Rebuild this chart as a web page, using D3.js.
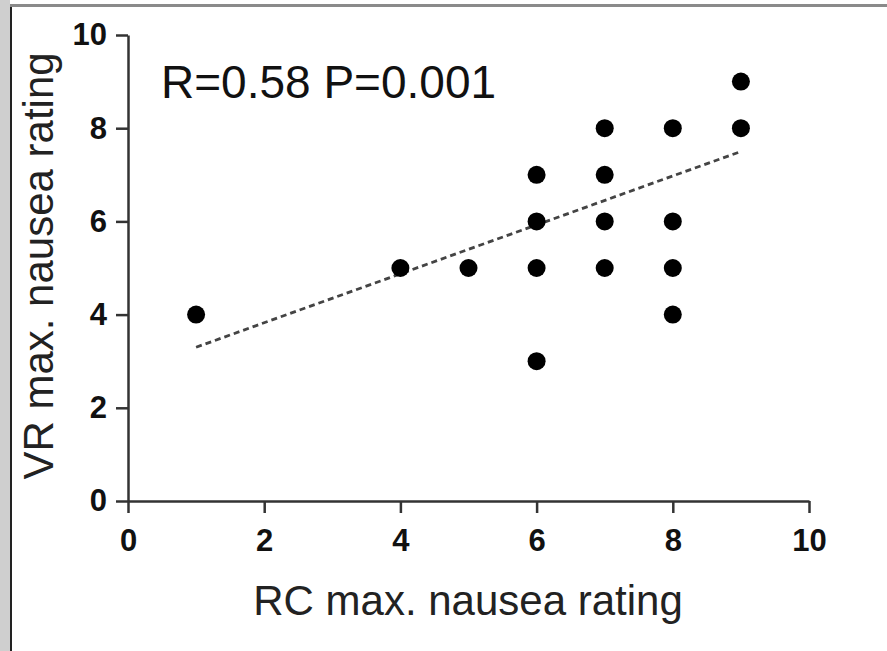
<!DOCTYPE html>
<html lang="en">
  <head>
    <meta charset="utf-8" />
    <title>VR vs RC max. nausea rating</title>
    <script src="https://d3js.org/d3.v7.min.js"></script>
    <style>
      body { margin: 0; background: #fff; }
      svg { display: block; font-family: "Liberation Sans", Arial, sans-serif; }
    </style>
  </head>
  <body>
    <svg id="chart" width="887" height="651"></svg>

    <script>
      // data
      const rcRating = [1, 4, 5, 6, 6, 6, 6, 7, 7, 7, 7, 8, 8, 8, 8, 9, 9];
      const vrRating = [4, 5, 5, 3, 5, 6, 7, 5, 6, 7, 8, 4, 5, 6, 8, 8, 9];
      const fitLine = [[1, 3.3], [9, 7.5]];
      const xTicks = [0, 2, 4, 6, 8, 10];
      const yTicks = [0, 2, 4, 6, 8, 10];
      const statText = "R=0.58 P=0.001";

      const svg = d3.select("#chart");

      // frame of the screenshot
      svg.append("rect").attr("x", 0).attr("y", 0).attr("width", 10).attr("height", 651).attr("fill", "#cfcfcf");
      svg.append("rect").attr("x", 10).attr("y", 5).attr("width", 2).attr("height", 646).attr("fill", "#222");
      svg.append("rect").attr("x", 10).attr("y", 4).attr("width", 877).attr("height", 3).attr("fill", "#8a8a8a");

      const x = d3.scaleLinear().domain([0, 10]).range([128, 809]);
      const y = d3.scaleLinear().domain([0, 10]).range([501, 35]);

      const xAxis = svg.append("g")
        .attr("transform", "translate(0,501)")
        .call(d3.axisBottom(x).tickValues(xTicks).tickSize(12).tickPadding(16).tickSizeOuter(0));
      const yAxis = svg.append("g")
        .attr("transform", "translate(128,0)")
        .call(d3.axisLeft(y).tickValues(yTicks).tickSize(12).tickPadding(9).tickSizeOuter(0));

      [xAxis, yAxis].forEach(function(a) {
        a.select(".domain").attr("stroke", "#333").attr("stroke-width", 2.5);
        a.selectAll(".tick line").attr("stroke", "#333").attr("stroke-width", 2.5);
        a.selectAll(".tick text")
          .attr("fill", "#111")
          .style("font-family", "'Liberation Sans', Arial, sans-serif")
          .style("font-size", "31px")
          .style("font-weight", "bold");
      });

      // regression line
      svg.append("line")
        .attr("x1", x(fitLine[0][0])).attr("y1", y(fitLine[0][1]))
        .attr("x2", x(fitLine[1][0])).attr("y2", y(fitLine[1][1]))
        .attr("stroke", "#444")
        .attr("stroke-width", 2.8)
        .attr("stroke-dasharray", "6,4");

      // points
      svg.append("g")
        .selectAll("circle")
        .data(rcRating)
        .enter()
        .append("circle")
        .attr("cx", function(d) { return x(d); })
        .attr("cy", function(d, i) { return y(vrRating[i]); })
        .attr("r", 9)
        .attr("fill", "#000");

      // stats
      svg.append("text")
        .attr("x", 161)
        .attr("y", 98)
        .attr("fill", "#111")
        .style("font-size", "46px")
        .text(statText);

      // axis titles
      svg.append("text")
        .attr("x", 468)
        .attr("y", 615)
        .attr("text-anchor", "middle")
        .attr("fill", "#222")
        .style("font-size", "42px")
        .text("RC max. nausea rating");

      svg.append("text")
        .attr("transform", "translate(53,266) rotate(-90)")
        .attr("text-anchor", "middle")
        .attr("fill", "#222")
        .style("font-size", "42px")
        .text("VR max. nausea rating");
    </script>
  </body>
</html>
